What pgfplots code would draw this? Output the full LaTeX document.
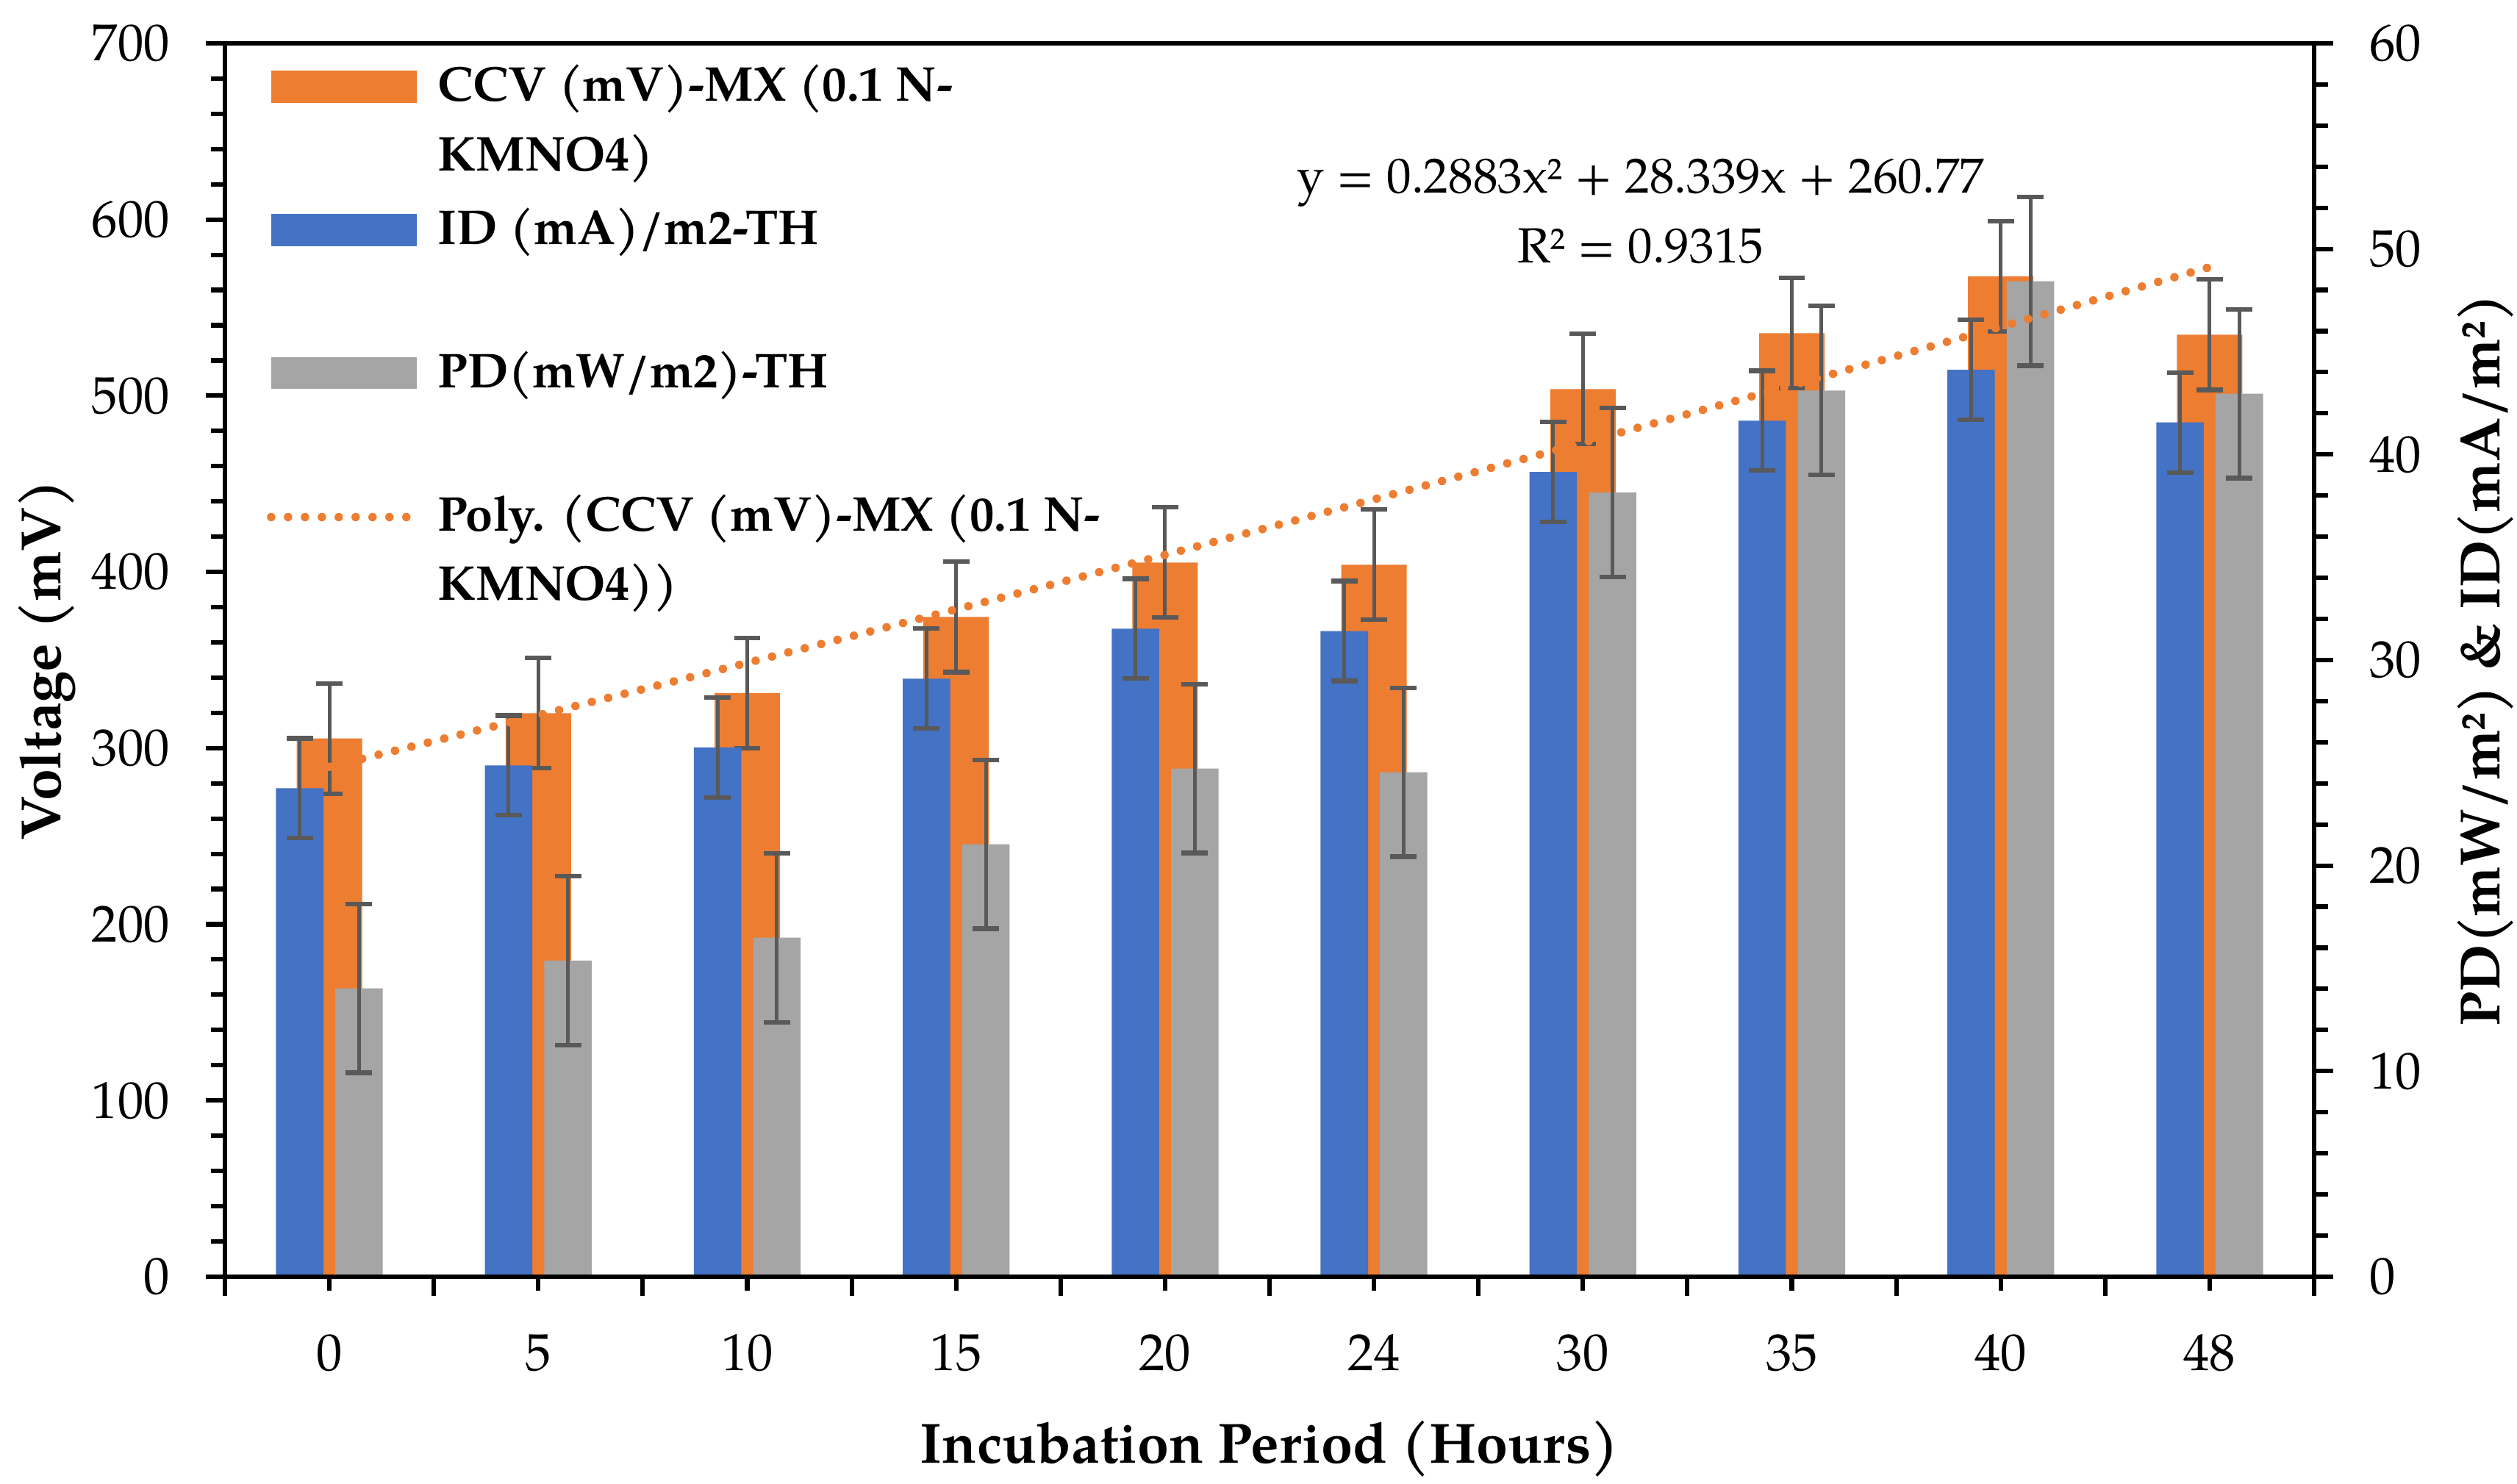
\documentclass[border=0pt]{standalone}
\usepackage{fontspec}
\setmainfont{texgyrepagella}[Extension=.otf, UprightFont=*-regular, BoldFont=*-bold, ItalicFont=*-italic, BoldItalicFont=*-bolditalic]
\usepackage{pgfplots}
\usepackage{pgfplotstable}
\pgfplotsset{compat=1.18}
\definecolor{cOrange}{HTML}{ED7D31}
\definecolor{cBlue}{HTML}{4472C4}
\definecolor{cGray}{HTML}{A5A5A5}
\definecolor{cErr}{HTML}{595959}

\pgfplotstableread{
idx ccv   ccverr id    iderr pd    pderr
0   305.5 31.3   23.76 2.43  14.03 4.11
1   319.8 31.3   24.87 2.43  15.38 4.11
2   331.3 31.3   25.75 2.43  16.49 4.11
3   374.4 31.3   29.09 2.43  21.04 4.11
4   405.3 31.3   31.52 2.43  24.72 4.11
5   404.1 31.3   31.41 2.43  24.54 4.11
6   503.8 31.3   39.15 2.43  38.15 4.11
7   535.5 31.3   41.64 2.43  43.11 4.11
8   567.7 31.3   44.12 2.43  48.43 4.11
9   534.6 31.3   41.56 2.43  42.96 4.11
}\datatable

\newcommand{\legtext}[1]{\parbox[b][31.56pt][t]{170pt}{\fontsize{11.3}{16}\selectfont\bfseries\raggedright\rule{0pt}{10pt}#1}}

\pgfplotsset{
  base/.style={
    scale only axis, width=482.3pt, height=284.75pt,
    xmin=-0.5, xmax=9.5, ymin=0,
    tick align=outside,
    axis line style={line width=1.04pt, black},
    every tick/.style={line width=1.04pt, black},
    every minor tick/.style={line width=1.04pt, black},
    tick label style={font=\fontsize{12}{14}\selectfont},
    /pgf/number format/assume math mode=true,
    clip=false,
  },
  errstyle/.style={
    error bars/.cd, y dir=both, y explicit,
    error bar style={line width=0.85pt, cErr},
    error mark options={rotate=90, mark size=3.05pt, line width=1.04pt, cErr},
  },
  patchlegend/.style={legend image code/.code={\fill[##1] (0pt,21.26pt) rectangle (33.6pt,28.66pt);}},
  linelegend/.style={legend image code/.code={\draw[##1] (0pt,24.76pt) -- (33.6pt,24.76pt);}},
}

\begin{document}
\begin{tikzpicture}
% Left axis: CCV
\begin{axis}[base, ymax=700,
  ytick={0,100,...,700}, minor y tick num=4, ytick pos=left, yticklabel pos=left,
  xtick=\empty, major tick length=4.4pt, minor tick length=3.2pt,
  yticklabel style={anchor=east, inner sep=0pt, xshift=-8.16pt},
  ylabel={Voltage (mV)},
  every axis y label/.style={at={([xshift=-37.9pt]axis description cs:0,0.5)}, rotate=90, anchor=base, font=\bfseries\fontsize{13.1}{16}\selectfont},
]
\addplot[ybar, bar width=15.1pt, bar shift=0pt, fill=cOrange, draw=none, errstyle]
  table[x=idx, y=ccv, y error=ccverr] {\datatable};
\end{axis}
% Right axis: ID and PD
\begin{axis}[base, ymax=60,
  ytick={0,10,...,60}, minor y tick num=4, ytick pos=right, yticklabel pos=right,
  xtick=\empty, major tick length=4.4pt, minor tick length=3.2pt,
  yticklabel style={anchor=west, inner sep=0pt, xshift=8.16pt},
  ylabel={PD(mW/m²) \& ID(mA/m²)},
  every axis y label/.style={at={([xshift=42.9pt]axis description cs:1,0.5)}, rotate=90, anchor=base, font=\bfseries\fontsize{13.1}{16}\selectfont},
]
\addplot[ybar, bar width=10.95pt, bar shift=0pt, fill=cBlue, draw=none, errstyle]
  table[x expr=\thisrow{idx}-0.142, y=id, y error=iderr] {\datatable};
\addplot[ybar, bar width=10.95pt, bar shift=0pt, fill=cGray, draw=none, errstyle]
  table[x expr=\thisrow{idx}+0.142, y=pd, y error=pderr] {\datatable};
\end{axis}
% Category axis, trend line, legend
\begin{axis}[base, ymax=700, ytick=\empty,
  xtick={0,...,9}, xticklabels={0,5,10,15,20,24,30,35,40,48},
  minor xtick={-0.5,0.5,...,9.5}, xtick pos=bottom,
  major tick length=3.2pt, minor tick length=4.4pt,
  xticklabel style={anchor=base, inner sep=0pt, yshift=-18.5pt},
  xlabel={Incubation Period (Hours)},
  every axis x label/.style={at={([yshift=-43.1pt]axis description cs:0.5,0)}, anchor=base, font=\bfseries\fontsize{13.1}{16}\selectfont},
  legend style={at={(axis description cs:0,1)}, anchor=north west, xshift=9.7pt, yshift=-3.4pt,
    draw=none, fill=none, inner sep=0pt, outer sep=0pt, row sep=0pt, column sep=3.9pt,
    cells={anchor=base west}, nodes={inner sep=0pt, outer sep=0pt, anchor=base west}},
]
\addlegendimage{patchlegend, fill=cOrange, draw=none}
\addlegendentry{\legtext{CCV (mV)-MX (0.1 N-\\KMNO4)}}
\addlegendimage{patchlegend, fill=cBlue, draw=none}
\addlegendentry{\legtext{ID (mA)/m2-TH}}
\addlegendimage{patchlegend, fill=cGray, draw=none}
\addlegendentry{\legtext{PD(mW/m2)-TH}}
\addplot[cOrange, line width=1.95pt, line cap=round, dash pattern=on 0pt off 3.9pt, linelegend] coordinates {
 (0,289.40) (0.5,303.93) (1,318.60) (1.5,333.42) (2,348.38) (2.5,363.49) (3,378.74) (3.5,394.13)
 (4,409.67) (4.5,425.36) (5,441.18) (5.5,457.15) (6,473.27) (6.5,489.53) (7,505.93) (7.5,522.48)
 (8,539.17) (8.5,556.01) (9,572.99)};
\addlegendentry{\legtext{Poly. (CCV (mV)-MX (0.1 N-\\KMNO4))}}
\node[anchor=base, inner sep=0pt, font=\fontsize{11.4}{14}\selectfont] at (axis cs:6.277,614.9) {y = 0.2883x² + 28.339x + 260.77};
\node[anchor=base, inner sep=0pt, font=\fontsize{11.4}{14}\selectfont] at (axis cs:6.277,575.4) {R² = 0.9315};
\end{axis}
\pgfresetboundingbox
\path[use as bounding box] (-51.93pt,-47.85pt) rectangle (529.14pt,294.76pt);
\end{tikzpicture}
\end{document}
